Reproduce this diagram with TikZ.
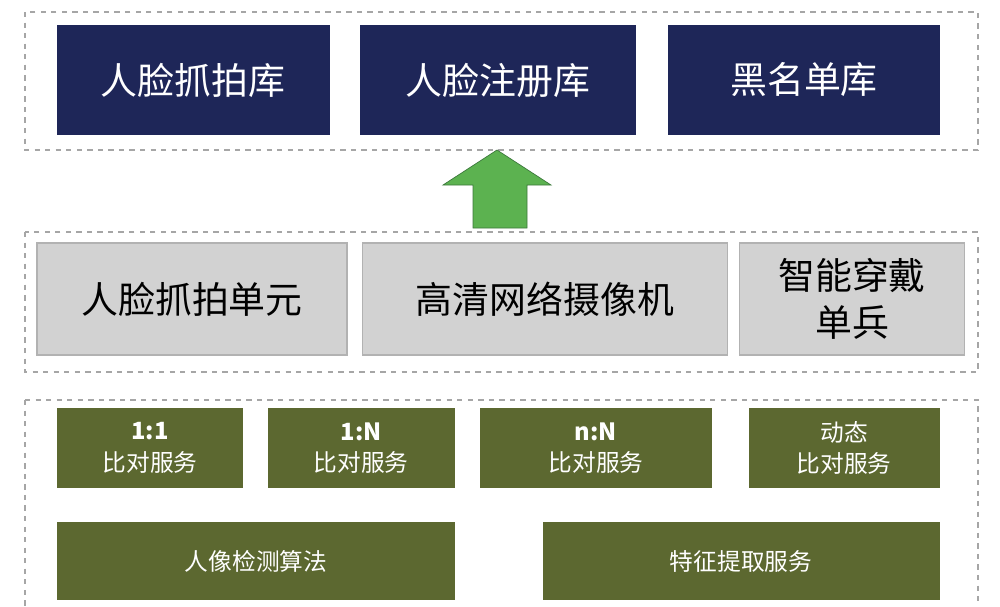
\documentclass[tikz,border=0pt]{standalone}
\usepackage{fontspec}
\setmainfont{Noto Sans CJK SC}
\begin{document}
\begin{tikzpicture}[x=0.02cm,y=-0.02cm,
 frame/.style={draw=gray!70,dashed,line width=1.2pt},
 navy/.style={fill={rgb,255:red,30;green,38;blue,88},text=white,font=\fontsize{21}{25}\selectfont},
 grey/.style={fill=gray!35,draw=gray!60,line width=0.8pt,text=black,font=\fontsize{21}{27}\selectfont,align=center},
 olive/.style={fill={rgb,255:red,92;green,104;blue,48},text=white,font=\fontsize{13.5}{18}\selectfont,align=center}]
\useasboundingbox (0,0) rectangle (1000,606);
\draw[frame] (25,12) rectangle (978,150);
\draw[frame] (25,232) rectangle (978,372);
\draw[frame] (25,400) -- (978,400) -- (978,606) (25,400) -- (25,606);
\node[navy,fit/.style={}] (a1) at (193,80) [minimum width=273*0.02cm,minimum height=110*0.02cm] {人脸抓拍库};
\node[navy] (a2) at (498,80) [minimum width=276*0.02cm,minimum height=110*0.02cm] {人脸注册库};
\node[navy] (a3) at (804,80) [minimum width=272*0.02cm,minimum height=110*0.02cm] {黑名单库};
\fill[fill={rgb,255:red,92;green,178;blue,80},draw={rgb,255:red,60;green,120;blue,60}] (473,228) -- (473,185) -- (443,185) -- (497,150) -- (551,185) -- (527,185) -- (527,228) -- cycle;
\node[grey,minimum width=310*0.02cm,minimum height=112*0.02cm] (b1) at (192,299) {人脸抓拍单元};
\node[grey,minimum width=365*0.02cm,minimum height=112*0.02cm] (b2) at (545,299) {高清网络摄像机};
\node[grey,minimum width=225*0.02cm,minimum height=112*0.02cm] (b3) at (852,299) {智能穿戴\\单兵};
\node[olive,minimum width=186*0.02cm,minimum height=80*0.02cm] (c1) at (150,448) {\textbf{1:1}\\比对服务};
\node[olive,minimum width=187*0.02cm,minimum height=80*0.02cm] (c2) at (361,448) {\textbf{1:N}\\比对服务};
\node[olive,minimum width=232*0.02cm,minimum height=80*0.02cm] (c3) at (596,448) {\textbf{n:N}\\比对服务};
\node[olive,minimum width=191*0.02cm,minimum height=80*0.02cm] (c4) at (844,448) {动态\\比对服务};
\node[olive,minimum width=398*0.02cm,minimum height=78*0.02cm] (d1) at (256,561) {人像检测算法};
\node[olive,minimum width=397*0.02cm,minimum height=78*0.02cm] (d2) at (741,561) {特征提取服务};
\end{tikzpicture}
\end{document}
